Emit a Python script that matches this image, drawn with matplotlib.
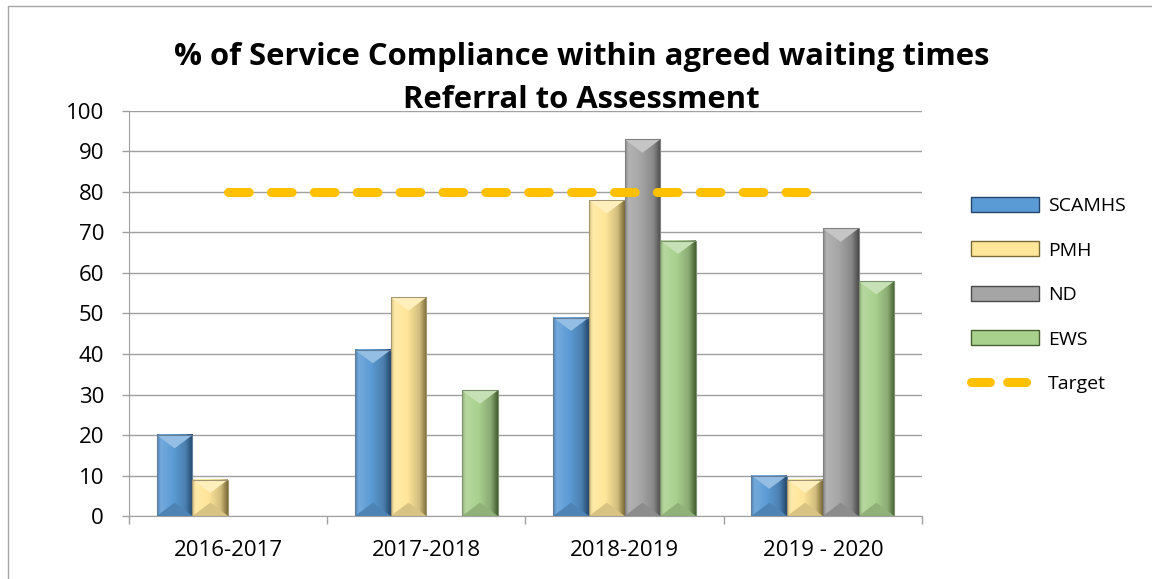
import numpy as np
import matplotlib
matplotlib.use('Agg')
import matplotlib.pyplot as plt
from matplotlib.patches import Polygon, Rectangle
from matplotlib.lines import Line2D
from matplotlib.colors import to_rgb

plt.rcParams['font.family'] = ['Open Sans', 'DejaVu Sans']

# data
years = ['2016-2017', '2017-2018', '2018-2019', '2019 - 2020']
scamhs = [20, 41, 49, 10]
pmh = [9, 54, 78, 9]
nd = [0, 0, 93, 71]
ews = [0, 31, 68, 58]
target = [80, 80, 80, 80]
series_names = ['SCAMHS', 'PMH', 'ND', 'EWS']
y_ticks = [0, 10, 20, 30, 40, 50, 60, 70, 80, 90, 100]

# (face, light, dark) per series
colors = {
    'SCAMHS': ('#5B9BD5', '#9DCAF2', '#23476B'),
    'PMH': ('#FFE699', '#FFF6C8', '#7A6A35'),
    'ND': ('#A5A5A5', '#D9D9D9', '#4A4A4A'),
    'EWS': ('#A9D18E', '#D2EDBF', '#45602F'),
}

fig = plt.figure(figsize=(11.52, 5.79), dpi=100)
ax = fig.add_axes([0.112, 0.1088, 0.6883, 0.6995])

x = np.arange(len(years))
bar_w = 0.18

# pixel scale so the bevel triangles keep their shape
ax_w_px = fig.get_figwidth() * fig.dpi * 0.6883
ax_h_px = fig.get_figheight() * fig.dpi * 0.6995
px_x = ax_w_px / 4.0
px_y = ax_h_px / 100.0


def shade(c, f):
    c = np.array(to_rgb(c))
    if f >= 1:
        return c + (1 - c) * (f - 1)
    return c * f


def bevel_bar(x0, h, name):
    if h <= 0:
        return
    face, light, dark = colors[name]
    x1 = x0 + bar_w
    xc = x0 + bar_w / 2
    # horizontal shading across the bar face
    t = np.linspace(0, 1, 60)
    stops_t = [0, 0.1, 0.45, 0.8, 1.0]
    stops_c = [shade(face, 0.85), shade(face, 1.15), np.array(to_rgb(face)),
               shade(face, 0.82), np.array(to_rgb(dark))]
    grad = np.zeros((1, len(t), 3))
    for k in range(3):
        grad[0, :, k] = np.interp(t, stops_t, [s[k] for s in stops_c])
    ax.imshow(grad, extent=[x0, x1, 0, h], aspect='auto', zorder=2,
              interpolation='bilinear')
    d = min(bar_w / 2 * px_x * 0.75 / px_y, h / 2)
    ax.add_patch(Polygon([(x0, h), (x1, h), (xc, h - d)], closed=True,
                         facecolor=shade(face, 1.35), edgecolor='none', zorder=3))
    ax.add_patch(Polygon([(x0, 0), (x1, 0), (xc, d)], closed=True,
                         facecolor=shade(face, 0.85), edgecolor='none', zorder=3))
    ax.add_patch(Rectangle((x0, 0), bar_w, h, facecolor='none',
                           edgecolor=shade(dark, 1.3), lw=0.8, zorder=4))


all_series = [scamhs, pmh, nd, ews]
for i, (name, vals) in enumerate(zip(series_names, all_series)):
    offs = (i - 2) * bar_w
    for xi, v in zip(x, vals):
        bevel_bar(xi + offs, v, name)

# target line
ax.plot(x, target, color='#FFC000', lw=6.5, linestyle=(0, (2.3, 2.45)),
        dash_capstyle='round', zorder=5)

ax.set_xlim(-0.5, 3.5)
ax.set_ylim(0, 100)
ax.set_yticks(y_ticks)
ax.set_xticks(x)
ax.set_xticklabels(years)
ax.set_xticks([-0.5, 0.5, 1.5, 2.5, 3.5], minor=True)
ax.tick_params(axis='x', which='major', length=0, pad=17, labelsize=16)
ax.tick_params(axis='x', which='minor', length=6, color='#A0A0A0', width=1)
ax.tick_params(axis='y', length=5, color='#A0A0A0', width=1, pad=13, labelsize=16)
ax.grid(axis='y', color='#A0A0A0', lw=1)
ax.set_axisbelow(True)
for s in ['top', 'right']:
    ax.spines[s].set_visible(False)
for s in ['left', 'bottom']:
    ax.spines[s].set_color('#A0A0A0')

# title
fig.text(0.505, 0.888, '% of Service Compliance within agreed waiting times',
         ha='center', va='baseline', fontsize=22.3, fontweight='bold')
fig.text(0.505, 0.813, 'Referral to Assessment',
         ha='center', va='baseline', fontsize=22.3, fontweight='bold')

# legend
handles = [Rectangle((0, 0), 1, 1, facecolor=colors[n][0], edgecolor=colors[n][2], lw=1)
           for n in series_names]
handles.append(Line2D([], [], color='#FFC000', lw=6.5, linestyle=(0, (2.1, 1.9)),
                      dash_capstyle='round'))
fig.legend(handles, series_names + ['Target'], loc='upper left',
           bbox_to_anchor=(0.828, 0.69), frameon=False, fontsize=14,
           handlelength=3.5, handleheight=0.8, labelspacing=1.35,
           handletextpad=0.45)

# outer chart border
fig.add_artist(Rectangle((0.007, -0.1), 1.2, 1.0896, transform=fig.transFigure,
                         fill=False, edgecolor='#A6A6A6', lw=1))

fig.savefig('out.png', dpi=100)
